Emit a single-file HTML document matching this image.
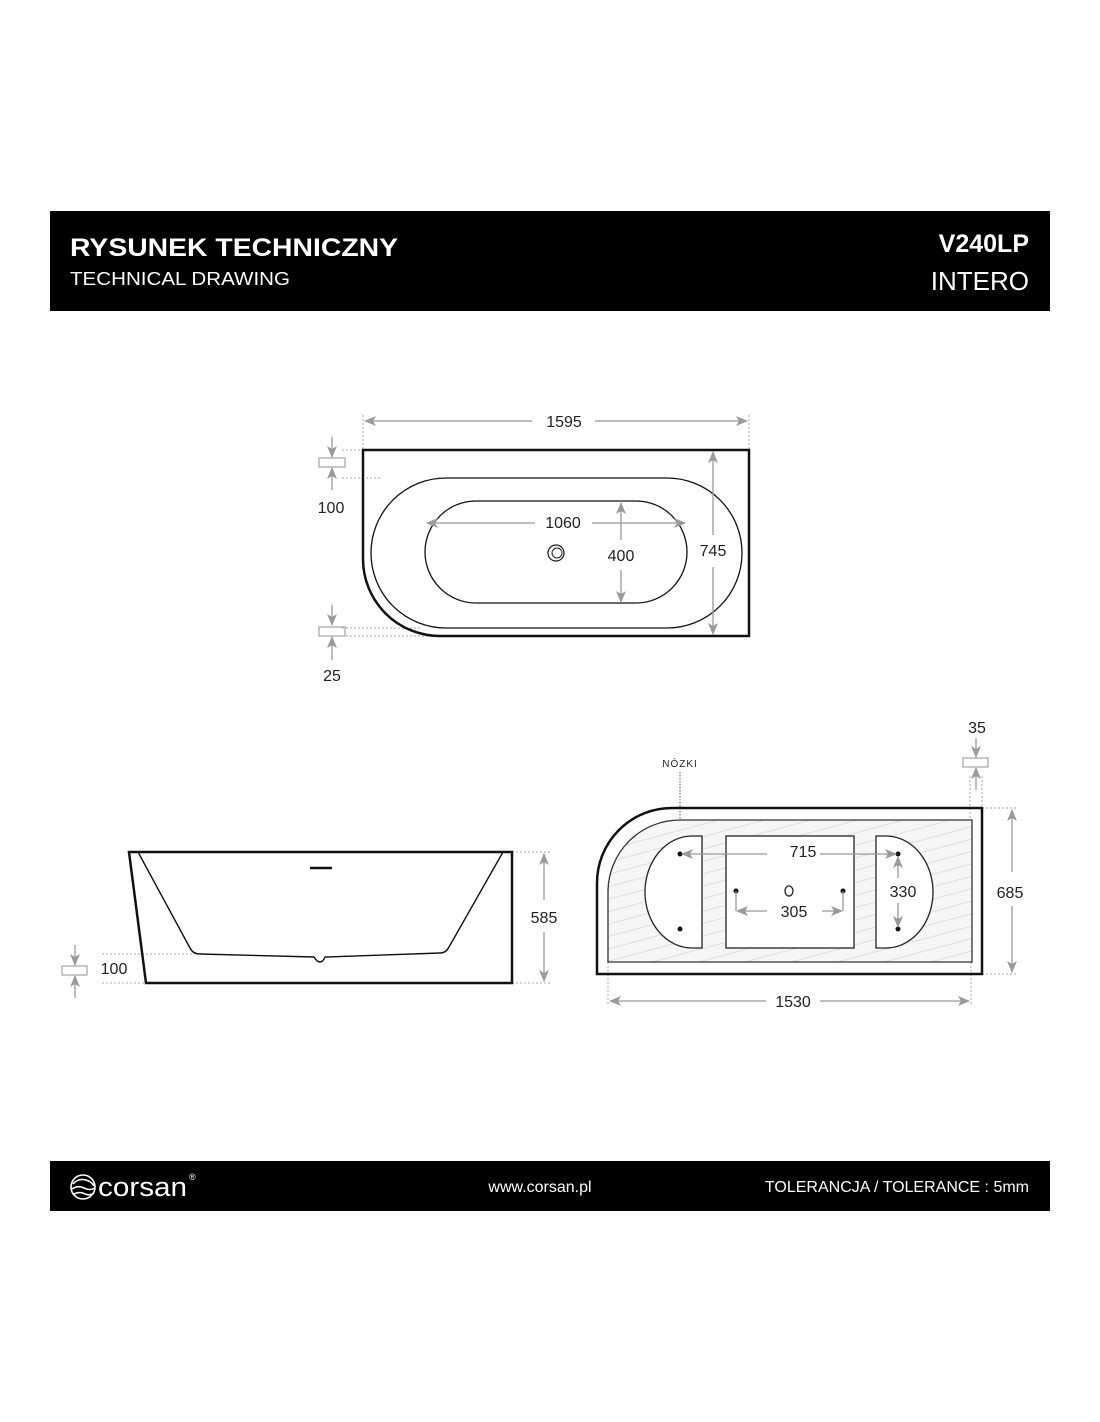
<!DOCTYPE html>
<html><head><meta charset="utf-8"><style>
html,body{margin:0;padding:0;background:#fff;}
svg{display:block;}
text{font-family:"Liberation Sans",sans-serif;}
</style></head><body>
<svg width="1100" height="1422" viewBox="0 0 1100 1422" xmlns="http://www.w3.org/2000/svg">
<defs>
<marker id="a" viewBox="0 0 12 10" refX="11" refY="5" markerWidth="12" markerHeight="10" markerUnits="userSpaceOnUse" orient="auto-start-reverse"><path d="M0,0 L12,5 L0,10 L3,5 Z" fill="#999"/></marker>
<pattern id="h" width="12" height="12" patternUnits="userSpaceOnUse" patternTransform="rotate(-15)"><rect width="12" height="12" fill="#f6f6f6"/><line x1="0" y1="6" x2="12" y2="6" stroke="#d8d8d8" stroke-width="0.8"/></pattern>
</defs>
<rect x="50" y="211" width="1000" height="100" fill="#000"/>
<text x="70" y="256" fill="#fff" font-size="25" font-weight="bold" textLength="328" lengthAdjust="spacingAndGlyphs">RYSUNEK TECHNICZNY</text>
<text x="70" y="285" fill="#fff" font-size="18" textLength="220" lengthAdjust="spacingAndGlyphs">TECHNICAL DRAWING</text>
<text x="1029" y="252" fill="#fff" font-size="25" font-weight="bold" text-anchor="end">V240LP</text>
<text x="1029" y="290" fill="#fff" font-size="26" text-anchor="end">INTERO</text>

<g fill="none" stroke="#aaa" stroke-width="1" stroke-dasharray="2,2">
<line x1="363" y1="415" x2="363" y2="450"/><line x1="749" y1="415" x2="749" y2="450"/>
<line x1="342" y1="450" x2="363" y2="450"/><line x1="342" y1="478" x2="380" y2="478"/>
<line x1="342" y1="628" x2="420" y2="628"/><line x1="342" y1="636" x2="430" y2="636"/>
<line x1="512" y1="852" x2="550" y2="852"/><line x1="512" y1="983" x2="550" y2="983"/>
<line x1="102" y1="954" x2="195" y2="954"/><line x1="102" y1="983" x2="146" y2="983"/>
<line x1="982" y1="808" x2="1018" y2="808"/><line x1="982" y1="974" x2="1018" y2="974"/>
<line x1="608" y1="962" x2="608" y2="1004"/><line x1="971" y1="962" x2="971" y2="1004"/>
<line x1="970" y1="776" x2="970" y2="820"/><line x1="982" y1="776" x2="982" y2="808"/>
<line x1="680" y1="772" x2="680" y2="854" stroke="#555" stroke-dasharray="1.5,1.5"/>
</g>

<path d="M363,450 L749,450 L749,636 L440,636 A77,77 0 0 1 363,559 Z" fill="none" stroke="#111" stroke-width="2.5"/>
<rect x="371" y="478" width="371" height="150" rx="75" fill="none" stroke="#111" stroke-width="1.3"/>
<rect x="425" y="501" width="262" height="102" rx="51" fill="none" stroke="#111" stroke-width="1.3"/>
<circle cx="556" cy="553" r="8" fill="none" stroke="#222" stroke-width="1.3"/><circle cx="557" cy="553" r="5" fill="none" stroke="#222" stroke-width="1"/>
<g stroke="#999" stroke-width="1.3" fill="none">
<line x1="365" y1="421" x2="532" y2="421" marker-start="url(#a)"/><line x1="595" y1="421" x2="747" y2="421" marker-end="url(#a)"/>
<line x1="713" y1="452" x2="713" y2="535" marker-start="url(#a)"/><line x1="713" y1="567" x2="713" y2="634" marker-end="url(#a)"/>
<line x1="427" y1="523" x2="535" y2="523" marker-start="url(#a)"/><line x1="592" y1="523" x2="685" y2="523" marker-end="url(#a)"/>
<line x1="621" y1="503" x2="621" y2="540" marker-start="url(#a)"/><line x1="621" y1="570" x2="621" y2="602" marker-end="url(#a)"/>
<line x1="332" y1="437" x2="332" y2="457" marker-end="url(#a)"/><line x1="332" y1="490" x2="332" y2="468" marker-end="url(#a)"/>
<line x1="332" y1="605" x2="332" y2="625" marker-end="url(#a)"/><line x1="332" y1="660" x2="332" y2="637" marker-end="url(#a)"/>
<rect x="319" y="458" width="26" height="9" stroke="#aaa"/><rect x="319" y="627" width="26" height="9" stroke="#aaa"/>
</g>
<g font-size="16" fill="#222" text-anchor="middle">
<text x="564" y="427">1595</text><text x="713" y="556">745</text><text x="563" y="528">1060</text><text x="621" y="561">400</text>
<text x="331" y="513">100</text><text x="332" y="681">25</text>
</g>

<path d="M129,852 L512,852 L512,983 L146,983 Z" fill="none" stroke="#111" stroke-width="2.5"/>
<path d="M138,852 L190,948 Q193,954 200,954 L314,957 Q317,962 320,962 Q323,962 325,957 L440,953 Q446,953 449,947 L503,852" fill="none" stroke="#111" stroke-width="1.4"/>
<line x1="310" y1="868" x2="332" y2="868" stroke="#111" stroke-width="2.5"/>
<g stroke="#999" stroke-width="1.3" fill="none">
<line x1="544" y1="854" x2="544" y2="900" marker-start="url(#a)"/><line x1="544" y1="932" x2="544" y2="981" marker-end="url(#a)"/>
<line x1="75" y1="945" x2="75" y2="965" marker-end="url(#a)"/><line x1="75" y1="998" x2="75" y2="976" marker-end="url(#a)"/>
<rect x="62" y="966" width="25" height="9" stroke="#aaa"/>
</g>
<g font-size="16" fill="#222" text-anchor="middle"><text x="544" y="923">585</text><text x="114" y="974">100</text></g>

<path d="M672,808 L982,808 L982,974 L597,974 L597,883 A75,75 0 0 1 672,808 Z" fill="none" stroke="#111" stroke-width="2.5"/>
<path d="M680,820 L972,820 L972,962 L608,962 L608,892 A72,72 0 0 1 680,820 Z" fill="url(#h)" stroke="#333" stroke-width="1.3"/>
<path d="M702,836 L692,836 A47,56 0 0 0 692,948 L702,948 Z" fill="#fff" stroke="#222" stroke-width="1.3"/>
<path d="M876,836 L886,836 A47,56 0 0 1 886,948 L876,948 Z" fill="#fff" stroke="#222" stroke-width="1.3"/>
<rect x="726" y="836" width="128" height="112" fill="#fff" stroke="#222" stroke-width="1.3"/>
<g fill="#111"><circle cx="680" cy="854" r="2.5"/><circle cx="680" cy="929" r="2.5"/><circle cx="898" cy="854" r="2.5"/><circle cx="898" cy="929" r="2.5"/><circle cx="736" cy="891" r="2.5"/><circle cx="843" cy="891" r="2.5"/></g>
<ellipse cx="789" cy="891" rx="4" ry="5" fill="none" stroke="#222" stroke-width="1.3"/>
<g stroke="#999" stroke-width="1.3" fill="none">
<line x1="682" y1="854" x2="767" y2="854" marker-start="url(#a)"/><line x1="820" y1="854" x2="896" y2="854" marker-end="url(#a)"/>
<line x1="898" y1="857" x2="898" y2="878" marker-start="url(#a)"/><line x1="898" y1="903" x2="898" y2="927" marker-end="url(#a)"/>
<line x1="736" y1="891" x2="736" y2="911"/><line x1="843" y1="891" x2="843" y2="911"/>
<line x1="737" y1="911" x2="767" y2="911" marker-start="url(#a)"/><line x1="822" y1="911" x2="842" y2="911" marker-end="url(#a)"/>
<line x1="1012" y1="810" x2="1012" y2="872" marker-start="url(#a)"/><line x1="1012" y1="906" x2="1012" y2="972" marker-end="url(#a)"/>
<line x1="610" y1="1001" x2="766" y2="1001" marker-start="url(#a)"/><line x1="820" y1="1001" x2="969" y2="1001" marker-end="url(#a)"/>
<line x1="976" y1="738" x2="976" y2="757" marker-end="url(#a)"/><line x1="976" y1="790" x2="976" y2="768" marker-end="url(#a)"/>
<rect x="963" y="758" width="25" height="9" stroke="#aaa"/>
</g>
<g font-size="16" fill="#222" text-anchor="middle">
<text x="803" y="857">715</text><text x="903" y="897">330</text><text x="794" y="917">305</text><text x="1010" y="898">685</text><text x="793" y="1007">1530</text><text x="977" y="733">35</text>
<text x="680" y="767" font-size="10" letter-spacing="1">NÓZKI</text>
</g>

<rect x="50" y="1161" width="1000" height="50" fill="#000"/>
<g fill="none" stroke="#fff" stroke-width="1.6">
<circle cx="83" cy="1187" r="12"/>
<path d="M73,1184 Q78,1178 86,1180 Q92,1182 94,1186"/><path d="M72,1189 Q78,1185 84,1188 Q90,1191 95,1188"/><path d="M74,1194 Q80,1191 85,1194 Q90,1196 94,1193"/>
</g>
<text x="98" y="1196" fill="#fff" font-size="27" textLength="89" lengthAdjust="spacingAndGlyphs">corsan</text>
<text x="189" y="1180" fill="#fff" font-size="9">®</text>
<text x="540" y="1192" fill="#fff" font-size="16" text-anchor="middle">www.corsan.pl</text>
<text x="1029" y="1192" fill="#fff" font-size="16" text-anchor="end">TOLERANCJA / TOLERANCE : 5mm</text>
</svg>
</body></html>
